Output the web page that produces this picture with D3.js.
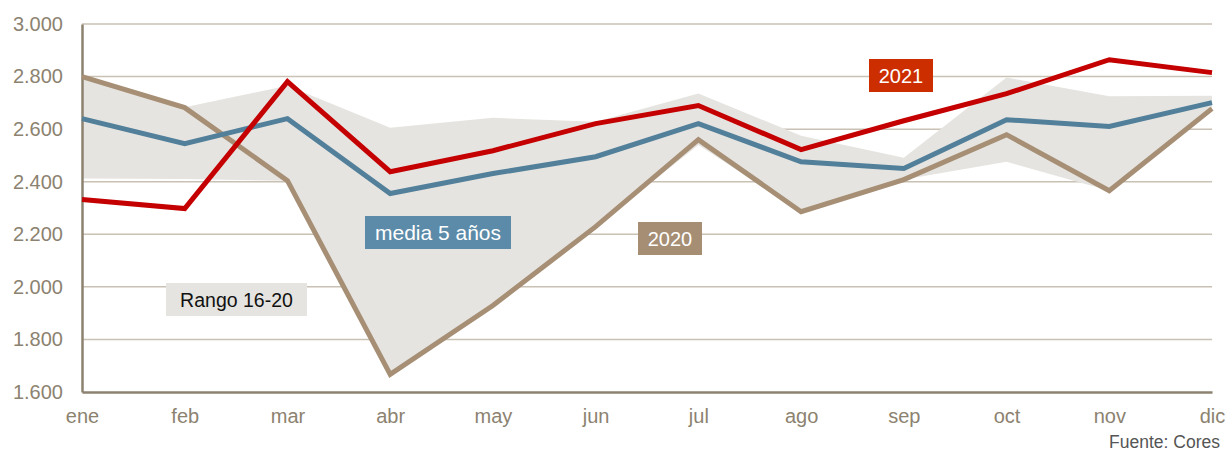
<!DOCTYPE html>
<html>
<head>
<meta charset="utf-8">
<script src="https://cdnjs.cloudflare.com/ajax/libs/d3/7.8.5/d3.min.js"></script>
<style>
  body { margin: 0; background: #fff; }
  #chart { width: 1227px; height: 452px; }
  text { font-family: "Liberation Sans", Arial, sans-serif; }
</style>
</head>
<body>
<div id="chart"></div>
<script>
// months on the x axis
const months = ['ene', 'feb', 'mar', 'abr', 'may', 'jun', 'jul', 'ago', 'sep', 'oct', 'nov', 'dic'];
const yTicks = [1600, 1800, 2000, 2200, 2400, 2600, 2800, 3000];

// series
const rangeHigh = [2800, 2683, 2765, 2605, 2643, 2628, 2736, 2575, 2491, 2796, 2725, 2727];
const rangeLow  = [2412, 2410, 2404, 1667, 1929, 2229, 2540, 2286, 2408, 2476, 2366, 2678];
const media5    = [2640, 2545, 2640, 2355, 2431, 2495, 2621, 2476, 2450, 2636, 2610, 2701];
const y2020     = [2800, 2682, 2404, 1667, 1929, 2229, 2560, 2286, 2408, 2579, 2366, 2678];
const y2021     = [2332, 2298, 2781, 2438, 2518, 2621, 2690, 2522, 2632, 2735, 2864, 2815];

const width = 1227;
const height = 452;
const margin = { top: 24, right: 15, bottom: 60, left: 82 };

const svg = d3.select('#chart').append('svg')
    .attr('width', width)
    .attr('height', height);

const xScale = d3.scalePoint()
    .domain(months)
    .range([margin.left, width - margin.right]);

const yScale = d3.scaleLinear()
    .domain([1600, 3000])
    .range([height - margin.bottom, margin.top]);

const axisColor = '#8c8270';

// gridlines
svg.append('g')
    .selectAll('line')
    .data(yTicks.filter(d => d > 1600))
    .enter()
    .append('line')
        .attr('x1', margin.left)
        .attr('x2', width - margin.right)
        .attr('y1', d => yScale(d))
        .attr('y2', d => yScale(d))
        .attr('stroke', '#c9c1b3')
        .attr('stroke-width', 1.5);

// range band
const band = d3.area()
    .x((d, i) => xScale(months[i]))
    .y0((d, i) => yScale(rangeLow[i]))
    .y1(d => yScale(d));

svg.append('path')
    .datum(rangeHigh)
    .attr('fill', '#e6e4e0')
    .attr('d', band);

// axes
const yAxis = d3.axisLeft(yScale)
    .tickValues(yTicks)
    .tickSize(0)
    .tickPadding(19)
    .tickFormat(d => d3.format(',')(d).replace(',', '.'));

const yG = svg.append('g')
    .attr('transform', `translate(${margin.left},0)`)
    .call(yAxis);
yG.select('.domain').attr('stroke', axisColor).attr('stroke-width', 2.5);
yG.selectAll('text')
    .attr('fill', axisColor)
    .style('font-size', '20px')
    .style('font-family', '"Liberation Sans", Arial, sans-serif');

const xAxis = d3.axisBottom(xScale)
    .tickSize(0)
    .tickPadding(17);

const xG = svg.append('g')
    .attr('transform', `translate(0,${height - margin.bottom})`)
    .call(xAxis);
xG.select('.domain').attr('stroke', axisColor).attr('stroke-width', 2.5);
xG.selectAll('text')
    .attr('fill', axisColor)
    .style('font-size', '20px')
    .style('font-family', '"Liberation Sans", Arial, sans-serif');

// lines
const line = d3.line()
    .x((d, i) => xScale(months[i]))
    .y(d => yScale(d));

const series = [
    { values: y2020, color: '#a68f75' },
    { values: media5, color: '#527f99' },
    { values: y2021, color: '#c40000' }
];

series.forEach(s => {
    svg.append('path')
        .datum(s.values)
        .attr('fill', 'none')
        .attr('stroke', s.color)
        .attr('stroke-width', 5)
        .attr('stroke-linejoin', 'miter')
        .attr('d', line);
});

// labels
const labels = [
    { text: '2021', x: 869, y: 59, w: 64, h: 33, size: 20, fill: '#cc2e00', color: '#fff' },
    { text: 'media 5 años', x: 365, y: 216, w: 146, h: 33, size: 21, fill: '#5b8ba8', color: '#fff' },
    { text: '2020', x: 638, y: 222, w: 64, h: 33, size: 20, fill: '#a58e74', color: '#fff' },
    { text: 'Rango 16-20', x: 166, y: 283, w: 141, h: 33, size: 19.5, fill: '#e6e4e0', color: '#111' }
];

labels.forEach(l => {
    svg.append('rect')
        .attr('x', l.x)
        .attr('y', l.y)
        .attr('width', l.w)
        .attr('height', l.h)
        .attr('fill', l.fill);
    svg.append('text')
        .attr('x', l.x + l.w / 2)
        .attr('y', l.y + l.h / 2 + 7.5)
        .attr('text-anchor', 'middle')
        .attr('fill', l.color)
        .style('font-size', l.size + 'px')
        .text(l.text);
});

// source
svg.append('text')
    .attr('x', 1220)
    .attr('y', 448)
    .attr('text-anchor', 'end')
    .attr('fill', '#555')
    .style('font-size', '17.5px')
    .text('Fuente: Cores');
</script>
</body>
</html>
